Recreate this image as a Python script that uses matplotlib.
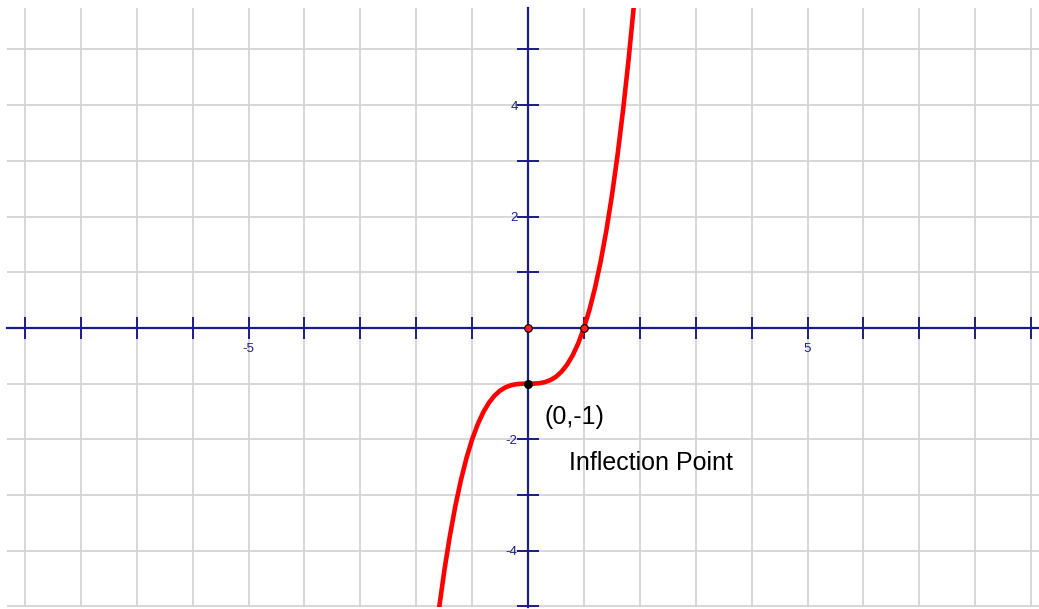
import matplotlib
matplotlib.use("Agg")
import matplotlib.pyplot as plt
from matplotlib.ticker import MultipleLocator, FuncFormatter

plt.rcParams['font.family'] = ['Liberation Sans', 'DejaVu Sans']

# Curve points (y = x^3 - 1)
curve_x = [-1.7, -1.6, -1.5, -1.4, -1.3, -1.2, -1.1, -1.0, -0.9, -0.8, -0.7, -0.6,
           -0.5, -0.4, -0.3, -0.2, -0.1, 0.0, 0.1, 0.2, 0.3, 0.4, 0.5, 0.6, 0.7,
           0.8, 0.9, 1.0, 1.1, 1.2, 1.3, 1.4, 1.5, 1.6, 1.7, 1.8, 1.9, 2.0]
curve_y = [-5.913, -5.096, -4.375, -3.744, -3.197, -2.728, -2.331, -2.0, -1.729,
           -1.512, -1.343, -1.216, -1.125, -1.064, -1.027, -1.008, -1.001, -1.0,
           -0.999, -0.992, -0.973, -0.936, -0.875, -0.784, -0.657, -0.488, -0.271,
           0.0, 0.331, 0.728, 1.197, 1.744, 2.375, 3.096, 3.913, 4.832, 5.859, 7.0]

# Marked points
intercept_x = [0, 1]
intercept_y = [0, 0]
inflection_x = [0]
inflection_y = [-1]

x_label_vals = [-5, 5]
y_label_vals = [-4, -2, 2, 4]

navy = '#1c1c8c'

W, H = 1039, 609
fig = plt.figure(figsize=(W / 100, H / 100), dpi=100)
ax = fig.add_axes([7 / W, (H - 607) / H, (W - 7) / W, (607 - 8) / H])

ax.set_xlim(-9.32, 9.14)
ax.set_ylim(-5.01, 5.745)

# grid
ax.xaxis.set_major_locator(MultipleLocator(1))
ax.yaxis.set_major_locator(MultipleLocator(1))
ax.grid(True, color='#d4d4d4', linewidth=1.3, zorder=0)
ax.set_axisbelow(True)

# axes through origin
for s in ['top', 'right']:
    ax.spines[s].set_visible(False)
ax.spines['left'].set_position(('data', 0))
ax.spines['bottom'].set_position(('data', 0))
for s in ['left', 'bottom']:
    ax.spines[s].set_color(navy)
    ax.spines[s].set_linewidth(1.6)
    ax.spines[s].set_zorder(2)

ax.tick_params(axis='both', direction='inout', length=16, width=1.4,
               color=navy, labelcolor=navy, labelsize=9.5)
ax.tick_params(axis='x', pad=3)
ax.tick_params(axis='y', pad=-0.5)

ax.xaxis.set_major_formatter(FuncFormatter(
    lambda v, p: f"{int(round(v))}" if int(round(v)) in x_label_vals else ""))
ax.yaxis.set_major_formatter(FuncFormatter(
    lambda v, p: f"{int(round(v))}" if int(round(v)) in y_label_vals else ""))

ax.plot(curve_x, curve_y, color='#ff0000', linewidth=3.3, zorder=3,
        solid_capstyle='round')

ax.scatter(intercept_x, intercept_y, s=30, facecolor='#ff2020', edgecolor='black',
           linewidth=0.8, zorder=4)
ax.scatter(inflection_x, inflection_y, s=30, facecolor='black', edgecolor='black',
           zorder=4)

ax.text(0.30, -1.6, "(0,-1)", fontsize=18, color='black', va='center', ha='left')
ax.text(0.73, -2.42, "Inflection Point", fontsize=18, color='black', va='center',
        ha='left')

fig.savefig("out.png", dpi=100)
